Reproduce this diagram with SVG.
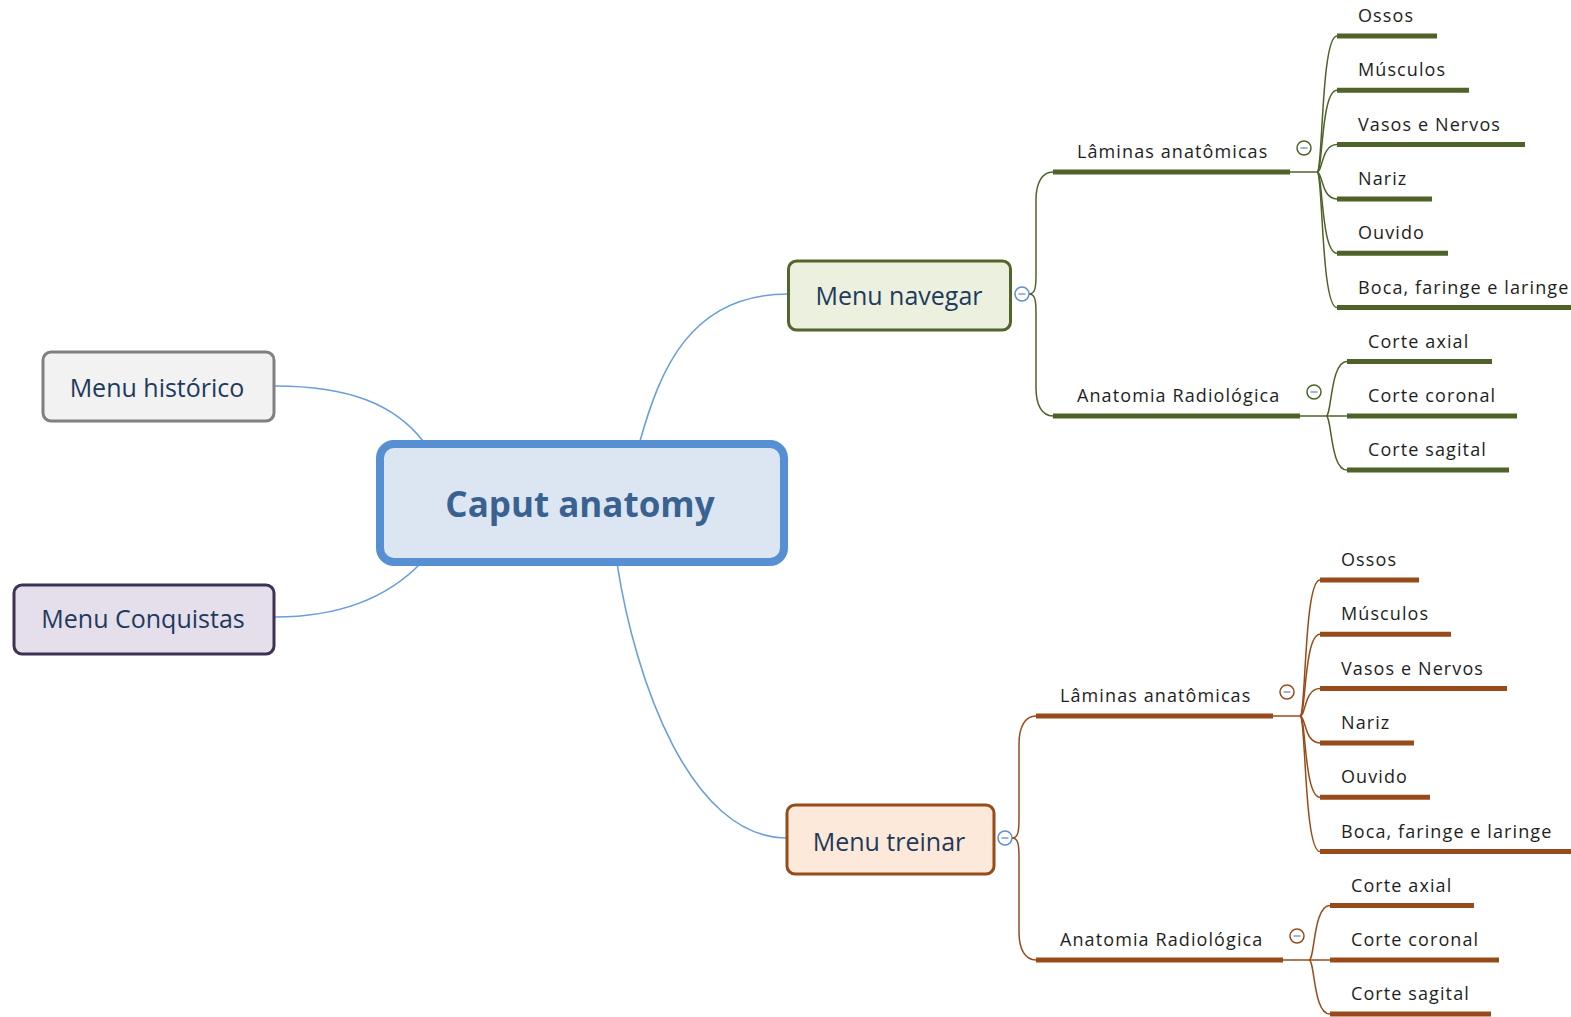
<svg xmlns="http://www.w3.org/2000/svg" width="1571" height="1017" viewBox="0 0 1571 1017">
<style>
.conn{fill:none;stroke:#6a9edc;stroke-width:1.6}
.gl{fill:none;stroke:#4f6228;stroke-width:1.5}
.bl{fill:none;stroke:#984b1a;stroke-width:1.5}
.gbar{stroke:#4f6228;stroke-width:5}
.bbar{stroke:#984b1a;stroke-width:5}
.lbl{font-family:"Open Sans","Liberation Sans",sans-serif;font-size:18px;fill:#1e1e1e;letter-spacing:1.1px}
.menu{font-family:"Open Sans","Liberation Sans",sans-serif;font-size:25px;fill:#1f3a5c;text-anchor:middle}
.root{font-family:"Open Sans","Liberation Sans",sans-serif;font-size:35px;font-weight:bold;fill:#3a6291;text-anchor:middle}
.cb{fill:#fff;stroke-width:1.5}
.minus{stroke:#8d9fd0;stroke-width:1.6}
</style>
<rect width="1571" height="1017" fill="#fff"/>
<g id="connectors">
  <path class="conn" d="M640,441 C660,370 690,294 788,294"/>
  <path class="conn" d="M617,563 C635,680 690,838 787,838"/>
  <path class="conn" d="M275,386 C350,386 395,405 423,441"/>
  <path class="conn" d="M275,617 C345,617 390,595 421,563"/>
  <!-- Menu navegar branches -->
  <path class="gl" d="M1029,294 C1035,294 1036,288 1036,275 L1036,200 C1036,183 1042,172 1053,172"/>
  <path class="gl" d="M1029,294 C1035,294 1036,300 1036,313 L1036,388 C1036,405 1042,416 1053,416"/>
  <path class="gl" d="M1290,172 H1317"/>
  <path class="gl" d="M1317,172 C1323,172 1321,36 1337,36"/>
  <path class="gl" d="M1317,172 C1323,172 1321,90.3 1337,90.3"/>
  <path class="gl" d="M1317,172 C1323,172 1321,144.6 1337,144.6"/>
  <path class="gl" d="M1317,172 C1323,172 1321,198.9 1337,198.9"/>
  <path class="gl" d="M1317,172 C1323,172 1321,253.2 1337,253.2"/>
  <path class="gl" d="M1317,172 C1323,172 1321,307.5 1337,307.5"/>
  <path class="gl" d="M1300,416 H1347"/>
  <path class="gl" d="M1326,416 C1332,416 1330,361.5 1347,361.5"/>
  <path class="gl" d="M1326,416 C1332,416 1330,470 1347,470"/>
  <!-- Menu treinar branches -->
  <path class="bl" d="M1012,838 C1018,838 1019,832 1019,819 L1019,744 C1019,727 1025,716 1036,716"/>
  <path class="bl" d="M1012,838 C1018,838 1019,844 1019,857 L1019,932 C1019,949 1025,960 1036,960"/>
  <path class="bl" d="M1273,716 H1300"/>
  <path class="bl" d="M1300,716 C1306,716 1304,580 1320,580"/>
  <path class="bl" d="M1300,716 C1306,716 1304,634.3 1320,634.3"/>
  <path class="bl" d="M1300,716 C1306,716 1304,688.6 1320,688.6"/>
  <path class="bl" d="M1300,716 C1306,716 1304,742.9 1320,742.9"/>
  <path class="bl" d="M1300,716 C1306,716 1304,797.2 1320,797.2"/>
  <path class="bl" d="M1300,716 C1306,716 1304,851.5 1320,851.5"/>
  <path class="bl" d="M1283,960 H1330"/>
  <path class="bl" d="M1309,960 C1315,960 1313,905.5 1330,905.5"/>
  <path class="bl" d="M1309,960 C1315,960 1313,1014 1330,1014"/>
</g>

<g id="root">
  <rect x="380" y="444" width="404" height="118" rx="14" fill="#dce6f2" stroke="#568fd2" stroke-width="8"/>
  <text class="root" x="580" y="517">Caput anatomy</text>
</g>

<g id="menu-historico">
  <rect x="43" y="352" width="231" height="69" rx="8" fill="#f2f2f2" stroke="#808080" stroke-width="3"/>
  <text class="menu" x="157" y="397">Menu histórico</text>
</g>
<g id="menu-conquistas">
  <rect x="14" y="585" width="260" height="69" rx="8" fill="#e5dfec" stroke="#3f3151" stroke-width="3"/>
  <text class="menu" x="143" y="628">Menu Conquistas</text>
</g>
<g id="menu-navegar">
  <rect x="788.5" y="261" width="222" height="69" rx="8" fill="#ebf1de" stroke="#52652a" stroke-width="3"/>
  <text class="menu" x="899" y="305">Menu navegar</text>
  <circle class="cb" cx="1022" cy="294" r="7" stroke="#5a8fd2"/>
  <line class="minus" x1="1018.5" y1="294" x2="1025.5" y2="294"/>
</g>
<g id="menu-treinar">
  <rect x="787" y="805" width="207" height="69" rx="8" fill="#fde9d9" stroke="#984b1a" stroke-width="3"/>
  <text class="menu" x="889" y="851">Menu treinar</text>
  <circle class="cb" cx="1005" cy="838" r="7" stroke="#5a8fd2"/>
  <line class="minus" x1="1001.5" y1="838" x2="1008.5" y2="838"/>
</g>

<!-- Navegar subtree -->
<g id="nav-laminas">
  <line class="gbar" x1="1053" y1="172" x2="1290" y2="172"/>
  <text class="lbl" x="1077" y="158">Lâminas anatômicas</text>
  <circle class="cb" cx="1304" cy="148" r="7" stroke="#4f6228"/>
  <line class="minus" x1="1300.5" y1="148" x2="1307.5" y2="148"/>
</g>
<g id="nav-l-ossos"><line class="gbar" x1="1337" y1="36" x2="1437" y2="36"/><text class="lbl" x="1358" y="22">Ossos</text></g>
<g id="nav-l-musculos"><line class="gbar" x1="1337" y1="90.3" x2="1469" y2="90.3"/><text class="lbl" x="1358" y="76.3">Músculos</text></g>
<g id="nav-l-vasos"><line class="gbar" x1="1337" y1="144.6" x2="1525" y2="144.6"/><text class="lbl" x="1358" y="130.6">Vasos e Nervos</text></g>
<g id="nav-l-nariz"><line class="gbar" x1="1337" y1="198.9" x2="1432" y2="198.9"/><text class="lbl" x="1358" y="184.9">Nariz</text></g>
<g id="nav-l-ouvido"><line class="gbar" x1="1337" y1="253.2" x2="1448" y2="253.2"/><text class="lbl" x="1358" y="239.2">Ouvido</text></g>
<g id="nav-l-boca"><line class="gbar" x1="1337" y1="307.5" x2="1571" y2="307.5"/><text class="lbl" x="1358" y="293.5">Boca, faringe e laringe</text></g>
<g id="nav-radiologica">
  <line class="gbar" x1="1053" y1="416" x2="1300" y2="416"/>
  <text class="lbl" x="1077" y="402">Anatomia Radiológica</text>
  <circle class="cb" cx="1314" cy="392" r="7" stroke="#4f6228"/>
  <line class="minus" x1="1310.5" y1="392" x2="1317.5" y2="392"/>
</g>
<g id="nav-r-axial"><line class="gbar" x1="1347" y1="361.5" x2="1492" y2="361.5"/><text class="lbl" x="1368" y="347.5">Corte axial</text></g>
<g id="nav-r-coronal"><line class="gbar" x1="1347" y1="416" x2="1517" y2="416"/><text class="lbl" x="1368" y="402">Corte coronal</text></g>
<g id="nav-r-sagital"><line class="gbar" x1="1347" y1="470" x2="1509" y2="470"/><text class="lbl" x="1368" y="456">Corte sagital</text></g>

<!-- Treinar subtree -->
<g id="tre-laminas">
  <line class="bbar" x1="1036" y1="716" x2="1273" y2="716"/>
  <text class="lbl" x="1060" y="702">Lâminas anatômicas</text>
  <circle class="cb" cx="1287" cy="692" r="7" stroke="#984b1a"/>
  <line class="minus" x1="1283.5" y1="692" x2="1290.5" y2="692"/>
</g>
<g id="tre-l-ossos"><line class="bbar" x1="1320" y1="580" x2="1419" y2="580"/><text class="lbl" x="1341" y="566">Ossos</text></g>
<g id="tre-l-musculos"><line class="bbar" x1="1320" y1="634.3" x2="1451" y2="634.3"/><text class="lbl" x="1341" y="620.3">Músculos</text></g>
<g id="tre-l-vasos"><line class="bbar" x1="1320" y1="688.6" x2="1507" y2="688.6"/><text class="lbl" x="1341" y="674.6">Vasos e Nervos</text></g>
<g id="tre-l-nariz"><line class="bbar" x1="1320" y1="742.9" x2="1414" y2="742.9"/><text class="lbl" x="1341" y="728.9">Nariz</text></g>
<g id="tre-l-ouvido"><line class="bbar" x1="1320" y1="797.2" x2="1430" y2="797.2"/><text class="lbl" x="1341" y="783.2">Ouvido</text></g>
<g id="tre-l-boca"><line class="bbar" x1="1320" y1="851.5" x2="1571" y2="851.5"/><text class="lbl" x="1341" y="837.5">Boca, faringe e laringe</text></g>
<g id="tre-radiologica">
  <line class="bbar" x1="1036" y1="960" x2="1283" y2="960"/>
  <text class="lbl" x="1060" y="946">Anatomia Radiológica</text>
  <circle class="cb" cx="1297" cy="936" r="7" stroke="#984b1a"/>
  <line class="minus" x1="1293.5" y1="936" x2="1300.5" y2="936"/>
</g>
<g id="tre-r-axial"><line class="bbar" x1="1330" y1="905.5" x2="1474" y2="905.5"/><text class="lbl" x="1351" y="891.5">Corte axial</text></g>
<g id="tre-r-coronal"><line class="bbar" x1="1330" y1="960" x2="1499" y2="960"/><text class="lbl" x="1351" y="946">Corte coronal</text></g>
<g id="tre-r-sagital"><line class="bbar" x1="1330" y1="1014" x2="1491" y2="1014"/><text class="lbl" x="1351" y="1000">Corte sagital</text></g>
</svg>
